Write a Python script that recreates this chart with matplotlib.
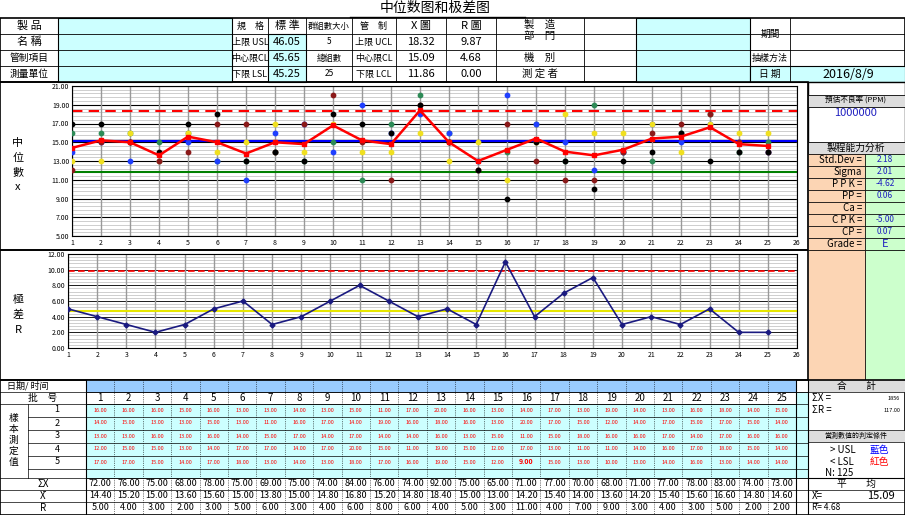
import matplotlib
matplotlib.use("Agg")
import matplotlib.pyplot as plt
from matplotlib.patches import Rectangle

plt.rcParams['font.family'] = ['Noto Sans CJK SC', 'DejaVu Sans']

subgroups = list(range(1, 26))
row1 = [16,16,16,15,16,13,13,14,13,15,11,17,20,16,13,14,17,13,19,14,13,16,18,14,15]
row2 = [14,15,13,13,15,13,11,16,17,14,19,16,18,16,13,20,17,15,12,14,17,15,17,15,14]
row3 = [13,13,16,13,16,14,15,17,14,17,14,14,16,13,15,11,15,18,16,16,17,14,17,16,16]
row4 = [12,15,15,13,14,17,17,14,17,20,15,11,19,15,12,17,13,11,11,14,16,17,18,15,14]
row5 = [17,17,15,14,17,18,13,14,13,18,17,16,19,15,12,9,15,13,10,13,14,16,13,14,14]
sumx = [72,76,75,68,78,75,69,75,74,84,76,74,92,75,65,71,77,70,68,71,77,78,83,74,73]
xbar = [14.4,15.2,15.0,13.6,15.6,15.0,13.8,15.0,14.8,16.8,15.2,14.8,18.4,15.0,13.0,14.2,15.4,14.0,13.6,14.2,15.4,15.6,16.6,14.8,14.6]
rng = [5,4,3,2,3,5,6,3,4,6,8,6,4,5,3,11,4,7,9,3,4,3,5,2,2]
x_ucl, x_cl, x_lcl = 18.32, 15.09, 11.86
r_ucl, r_cl = 9.87, 4.68
row_colors = ['#2e8b57', '#1f3fff', '#f0e020', '#8b1a1a', '#000000']

W, H = 905, 515
fig = plt.figure(figsize=(W/100, H/100), dpi=100)
fig.patch.set_facecolor('white')

def P(x, y):
    return x / W, 1 - y / H

def txt(x, y, s, size=6.5, color='black', ha='center', **kw):
    fig.text(*P(x, y), s, fontsize=size, color=color, ha=ha, va='center', **kw)

def rect(x0, y0, x1, y1, fc='none', ec='black', lw=0.8):
    fig.patches.append(Rectangle(P(x0, y1), (x1-x0)/W, (y1-y0)/H, transform=fig.transFigure,
                                 fc=fc, ec=ec, lw=lw))

def hline(x0, x1, y, lw=0.8, color='black', ls='-'):
    fig.add_artist(plt.Line2D([x0/W, x1/W], [1-y/H, 1-y/H], lw=lw, color=color, ls=ls, transform=fig.transFigure))

def vline(x, y0, y1, lw=0.8, color='black', ls='-'):
    fig.add_artist(plt.Line2D([x/W, x/W], [1-y0/H, 1-y1/H], lw=lw, color=color, ls=ls, transform=fig.transFigure))

cyan = '#ccffff'
orange = '#fcd5b4'
lgreen = '#ccffcc'
# title
txt(435, 8, '中位数图和极差图', size=10)
hline(350, 525, 17, lw=1)
# header
rect(0, 18, 905, 82, lw=1.2)
rect(58, 18, 232, 82, fc=cyan)
rect(268, 34, 306, 82, fc=cyan)
rect(636, 18, 750, 82, fc=cyan)
rect(750, 66, 905, 82, fc=cyan)
for y in [34, 50, 66]:
    hline(0, 905, y, lw=0.6)
for x in [58, 232, 268, 306, 352, 396, 446, 496, 584, 636, 750, 790]:
    vline(x, 18, 82, lw=0.6)
txt(29, 26, '製 品', 8); txt(29, 42, '名 稱', 8)
txt(29, 58, '管制項目', 7); txt(29, 74, '測量單位', 7)
for y, s in zip([26, 42, 58, 74], ['規　格', '上限 USL', '中心限CL', '下限 LSL']):
    txt(250, y, s, 6.5)
for y, s in zip([26, 42, 58, 74], ['標 準', '46.05', '45.65', '45.25']):
    txt(287, y, s, 8)
for y, s in zip([26, 42, 58, 74], ['群組數大小', '5', '總組數', '25']):
    txt(329, y, s, 6)
for y, s in zip([26, 42, 58, 74], ['管　制', '上限 UCL', '中心限CL', '下限 LCL']):
    txt(374, y, s, 6.5)
for y, s in zip([26, 42, 58, 74], ['X 圖', '18.32', '15.09', '11.86']):
    txt(421, y, s, 8)
for y, s in zip([26, 42, 58, 74], ['R 圖', '9.87', '4.68', '0.00']):
    txt(471, y, s, 8)
txt(540, 30, '製　造\n部　門', 7.5)
txt(540, 58, '機　別', 7.5); txt(540, 74, '測 定 者', 7.5)
txt(770, 34, '期間', 7); txt(770, 58, '抽樣方法', 6.5); txt(770, 74, '日 期', 7)
txt(848, 74, '2016/8/9', 9)

# Xbar chart frame
rect(0, 82, 808, 250, lw=1.2)
txt(18, 165, '中\n位\n數\nx', 8, linespacing=1.6)
ax = fig.add_axes([*P(72, 236), (797-72)/W, (236-86)/H])
ax.set_xlim(1, 26); ax.set_ylim(5, 21)
for yy in [5 + 0.4*i for i in range(41)]:
    ax.axhline(yy, color='#aaaaaa', lw=0.4, zorder=0)
for yy in range(5, 22, 2):
    ax.axhline(yy, color='black', lw=0.8, zorder=1)
for xx in subgroups + [26]:
    ax.axvline(xx, color='#999999', lw=1.0, zorder=1)
for r, c in zip([row1, row2, row3, row4, row5], row_colors):
    ax.scatter(subgroups, r, s=10, color=c, zorder=3)
ax.axhline(x_ucl, color='red', ls=(0, (5, 3)), lw=1.5, zorder=2)
ax.axhline(x_cl, color='blue', lw=1.5, zorder=2)
ax.axhline(x_lcl, color='green', lw=1.5, zorder=2)
ax.plot(subgroups, xbar, color='red', lw=1.8, marker='s', ms=3, zorder=4)
ax.set_yticks(range(5, 22, 2)); ax.set_yticklabels([f'{v:.2f}' for v in range(5, 22, 2)])
ax.set_xticks(subgroups + [26])
ax.tick_params(labelsize=5, length=0, pad=2)
for s in ax.spines.values(): s.set_linewidth(0.8)

# R chart frame
rect(0, 250, 808, 380, lw=1.2)
txt(18, 315, '極\n差\nR', 8, linespacing=1.6)
ax2 = fig.add_axes([*P(68, 348), (797-68)/W, (348-254)/H])
ax2.set_xlim(1, 26); ax2.set_ylim(0, 12)
for yy in [0.4*i for i in range(31)]:
    ax2.axhline(yy, color='#aaaaaa', lw=0.4, zorder=0)
for yy in range(0, 13, 2):
    ax2.axhline(yy, color='black', lw=0.6, zorder=1)
for xx in subgroups + [26]:
    ax2.axvline(xx, color='#999999', lw=1.0, zorder=1)
ax2.axhline(r_ucl, color='red', ls=(0, (4, 2)), lw=1.2, zorder=2)
ax2.axhline(r_cl, color='#e6e600', lw=1.5, zorder=2)
ax2.plot(subgroups, rng, color='#1a1a80', lw=1.2, marker='D', ms=2.5, zorder=4)
ax2.set_yticks(range(0, 13, 2)); ax2.set_yticklabels([f'{v:.2f}' for v in range(0, 13, 2)])
ax2.set_xticks(subgroups + [26])
ax2.tick_params(labelsize=5, length=0, pad=2)

# right panel
rect(808, 82, 905, 250, fc='white', lw=1.0)
rect(808, 95, 905, 107, fc='#dddddd', lw=0.6)
txt(856, 101, '預估不良率 (PPM)', 5.5)
txt(856, 113, '1000000', 8, color='#2020c0')
rect(808, 142, 905, 154, fc='#dddddd', lw=0.6)
txt(856, 148, '製程能力分析', 7)
labels = ['Std.Dev =', 'Sigma', 'P P K =', 'PP =', 'Ca =', 'C P K =', 'CP =', 'Grade =']
vals = ['2.18', '2.01', '-4.62', '0.06', '', '-5.00', '0.07', 'E']
for i, (l, v) in enumerate(zip(labels, vals)):
    y0 = 154 + i*12
    rect(808, y0, 865, y0+12, fc=orange, lw=0.5)
    rect(865, y0, 905, y0+12, fc=lgreen, lw=0.5)
    txt(862, y0+6, l, 7, ha='right')
    txt(885, y0+6, v, 6 if v != 'E' else 8, color='#2020c0')
rect(865, 250, 905, 380, fc=lgreen, lw=0.5)
rect(808, 250, 865, 380, fc=orange, lw=0.5)

# table
x0c, cw = 86, 28.4
xs = [x0c + i*cw for i in range(26)]
rect(0, 380, 905, 515, lw=1.2)
rect(86, 380, xs[25], 392, fc='#99ccff', lw=0.5)
rect(86, 404, xs[25], 478, fc=cyan, lw=0.5)
rect(xs[25], 392, 808, 478, fc=cyan, lw=0.5)
for y in [392, 404, 417, 430, 443, 456, 469, 478, 490, 502]:
    hline(28 if 404 < y < 478 else 0, 808, y, lw=0.5)
for x in xs[1:25]:
    vline(x, 380, 515, lw=0.5, ls=':')
vline(86, 380, 515); vline(xs[25], 380, 515); vline(808, 380, 515)
vline(28, 404, 478, lw=0.5)
txt(28, 386, '日期/ 时间', 6.5)
txt(43, 398, '批　号', 7)
txt(14, 440, '樣\n本\n測\n定\n值', 7, linespacing=1.15)
for j, y in enumerate([410, 423, 436, 449, 462]):
    txt(57, y, str(j+1), 6.5)
txt(43, 484, 'ΣX', 7); txt(43, 496, 'X̄', 7); txt(43, 508, 'R', 7)
rows = [row1, row2, row3, row4, row5]
for i in range(25):
    xc = xs[i] + cw/2
    txt(xc, 398, str(i+1), 7)
    for j, y in enumerate([410, 423, 436, 449, 462]):
        v = rows[j][i]
        txt(xc, y, f'{v:.2f}', 4 if v >= 10 else 5, color='red',
            fontweight='bold' if v < 10 else 'normal')
    txt(xc, 484, f'{sumx[i]:.2f}', 6.5)
    txt(xc, 496, f'{xbar[i]:.2f}', 6.5)
    txt(xc, 508, f'{rng[i]:.2f}', 6.5)
# table right panel
rect(808, 380, 905, 392, fc='#dddddd', lw=0.5)
txt(856, 386, '合　　計', 7)
txt(812, 398, 'ΣX =', 7, ha='left'); txt(900, 398, '1856', 4, ha='right')
txt(812, 410, 'ΣR =', 7, ha='left'); txt(900, 410, '117.00', 4, ha='right')
rect(808, 430, 905, 442, fc='#dddddd', lw=0.5)
txt(856, 436, '當測數值的判定條件', 5)
txt(830, 450, '> USL', 7, ha='left'); txt(870, 450, '藍色', 7, color='blue', ha='left')
txt(830, 462, '< LSL', 7, ha='left'); txt(870, 462, '紅色', 7, color='red', ha='left')
txt(825, 473, 'N: 125', 7, ha='left')
hline(808, 905, 478, lw=0.8)
txt(856, 484, '平　　均', 7)
hline(808, 905, 490, lw=0.5)
txt(812, 496, 'X̄=', 7, ha='left'); txt(895, 496, '15.09', 8, ha='right')
hline(808, 905, 502, lw=0.5)
txt(812, 508, 'R̄= 4.68', 6, ha='left')

fig.savefig('out.png', dpi=100)
